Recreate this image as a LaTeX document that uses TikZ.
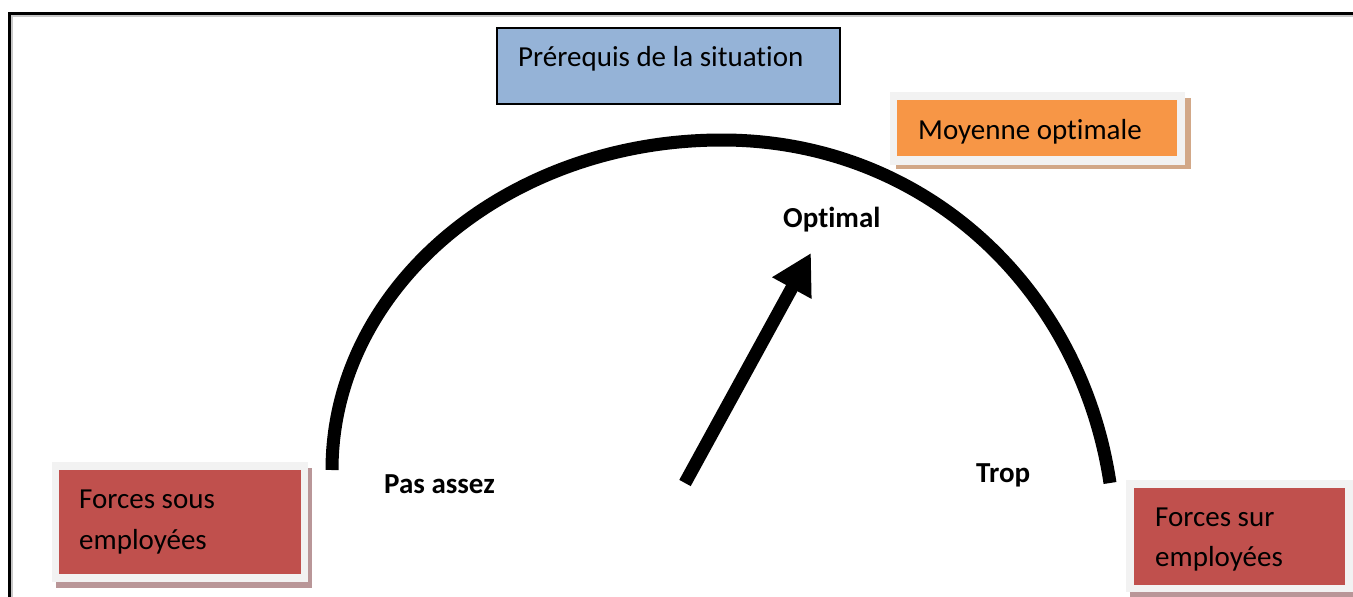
\documentclass[tikz,border=0pt]{standalone}
\usepackage{fontspec}
\setmainfont{Carlito}[Ligatures=NoCommon]
\usetikzlibrary{arrows.meta}
\definecolor{boxblue}{HTML}{95B3D7}
\definecolor{boxorange}{HTML}{F79646}
\definecolor{boxred}{HTML}{C0504D}
\definecolor{panel}{HTML}{F2F2F2}
\definecolor{shadowred}{RGB}{185,150,152}
\definecolor{shadoworange}{RGB}{210,168,136}
\definecolor{frameshadow}{RGB}{200,200,200}
\tikzset{
  boxtext/.style={anchor=base west, inner sep=0pt, font=\fontsize{29}{35}\selectfont},
  label/.style={anchor=base west, inner sep=0pt, font=\bfseries\fontsize{29}{35}\selectfont},
  gauge/.style={line width=13pt, black},
}
\begin{document}
\begin{tikzpicture}[x=1pt,y=-1pt]
\useasboundingbox (0,0) rectangle (1353,597);
\clip (0,0) rectangle (1353,597);
% page frame
\draw[frameshadow, line width=1.6pt] (11.7,700) -- (11.7,15.9) -- (1400,15.9);
\draw[black, line width=2.7pt] (9.7,700) -- (9.7,13.7) -- (1400,13.7);

% Prerequis box
\fill[boxblue] (497,28) rectangle (840,104);
\draw[black, line width=1.3pt] (497,28) rectangle (840,104);
\node[boxtext] (prereq) at (518,66) {Prérequis de la situation};

% Moyenne optimale box
\fill[shadoworange] (896,98) rectangle (1191,169);
\fill[panel] (890,92) rectangle (1185,165);
\fill[boxorange] (897,100) rectangle (1177,156);
\node[boxtext] (moy) at (918,139) {Moyenne optimale};

% Forces sous employees
\fill[shadowred] (56,468) rectangle (312,588);
\fill[panel] (52,462) rectangle (308,582);
\fill[boxred] (59,470) rectangle (301,574);
\node[boxtext] (sous1) at (79,508) {Forces sous};
\node[boxtext] (sous2) at (79,549) {employées};

% Forces sur employees
\fill[shadowred] (1130,486) rectangle (1360,598);
\fill[panel] (1126,480) rectangle (1353,592);
\fill[boxred] (1134,488) rectangle (1345,585);
\node[boxtext] (sur1) at (1155,526) {Forces sur};
\node[boxtext] (sur2) at (1155,566) {employées};

% gauge arc
\coordinate (arcL) at (332,470);
\coordinate (arcTop) at (722,140);
\coordinate (arcR) at (1110,483);
\draw[gauge] (arcL) .. controls (332,287.7) and (506.6,140) .. (arcTop)
  .. controls (922,140) and (1080.2,285.2) .. (arcR);

% needle
\coordinate (tail) at (685,483);
\coordinate (tip) at (811,253);
\draw[gauge, -{Triangle[length=40pt, width=42pt]}] (tail) -- (tip);

% labels
\node[label] (opt) at (783,227) {Optimal};
\node[label] (pas) at (384,493) {Pas assez};
\node[label] (trop) at (976,482) {Trop};
\end{tikzpicture}
\end{document}
